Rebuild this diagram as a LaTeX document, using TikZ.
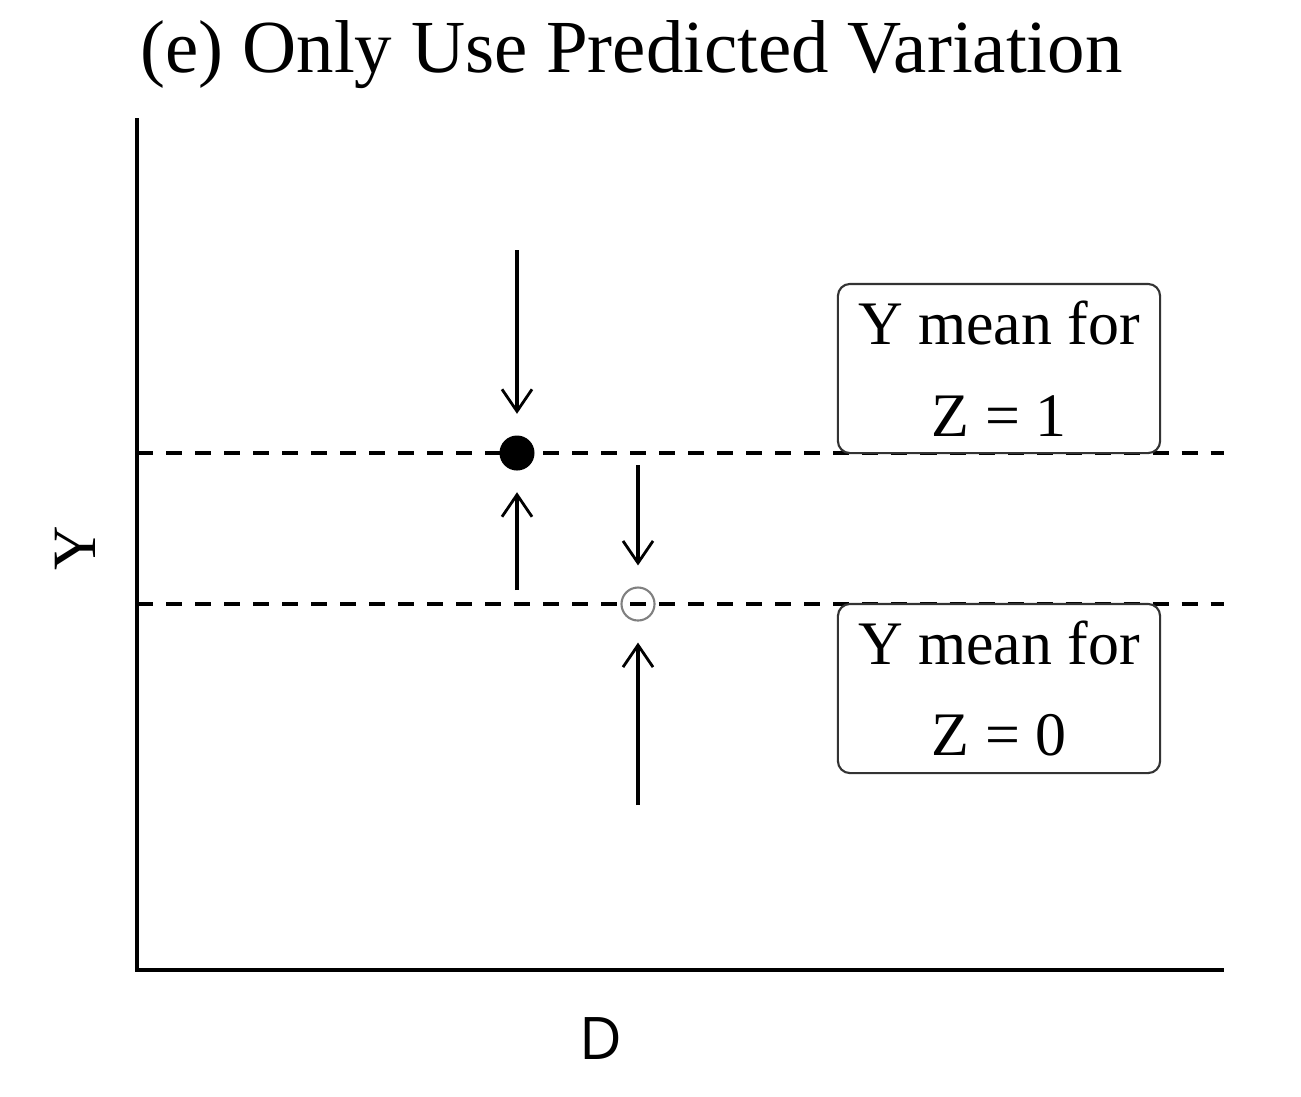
\documentclass[tikz,border=0pt]{standalone}
\usepackage{fontspec}
\setmainfont{Liberation Serif}
\newfontfamily\axisfont{Open Sans}
\usetikzlibrary{arrows.meta}

\tikzset{
    meanline/.style={line width=0.9pt, dash pattern=on 0.16cm off 0.13cm},
    shiftarrow/.style={line width=0.9pt, -{Straight Barb[length=0.22cm, width=0.3cm, line width=0.8pt]}, shorten >=0.21cm},
    meanbox/.style={draw=black!80, line width=0.6pt, rounded corners=0.12cm, fill=white,
        minimum width=3.22cm, minimum height=1.69cm, align=center, inner sep=0pt,
        font=\fontsize{17.6}{26}\selectfont}
}

\begin{document}
\begin{tikzpicture}[x=0.01cm, y=-0.01cm]
        \useasboundingbox (0, 0) rectangle (1301, 1096);

        \node[anchor=base west, inner sep=0pt, font=\fontsize{21.3}{25}\selectfont] (title) at (140, 72) {(e) Only Use Predicted Variation};

        \coordinate (top) at (137, 118);
        \coordinate (origin) at (137, 970);
        \coordinate (right) at (1224, 970);
        \draw[line width=0.9pt] (top) -- (origin) -- (right);

        \node[rotate=90, font=\fontsize{17.5}{20}\selectfont] (ylabel) at (75, 548) {Y};
        \node[font=\axisfont\fontsize{16.7}{20}\selectfont] (dlabel) at (601, 1039) {D};

        \draw[meanline] (137, 453) -- (1224, 453);
        \draw[meanline] (137, 604) -- (1224, 604);

        \node[meanbox] (box1) at (999, 368.5) {Y mean for\\Z = 1};
        \node[meanbox] (box0) at (999, 688.5) {Y mean for\\Z = 0};

        \node[circle, fill=black, minimum size=0.35cm, inner sep=0pt] (dot1) at (517, 453) {};
        \node[circle, draw=black!50, line width=0.6pt, minimum size=0.33cm, inner sep=0pt] (dot0) at (638, 604) {};

        \coordinate (a1) at (517, 250);
        \coordinate (b1) at (517, 590);
        \coordinate (a0) at (638, 465);
        \coordinate (b0) at (638, 805);

        \draw[shiftarrow] (a1) -- (dot1);
        \draw[shiftarrow] (b1) -- (dot1);
        \draw[shiftarrow] (a0) -- (dot0);
        \draw[shiftarrow] (b0) -- (dot0);
    \end{tikzpicture}
\end{document}
